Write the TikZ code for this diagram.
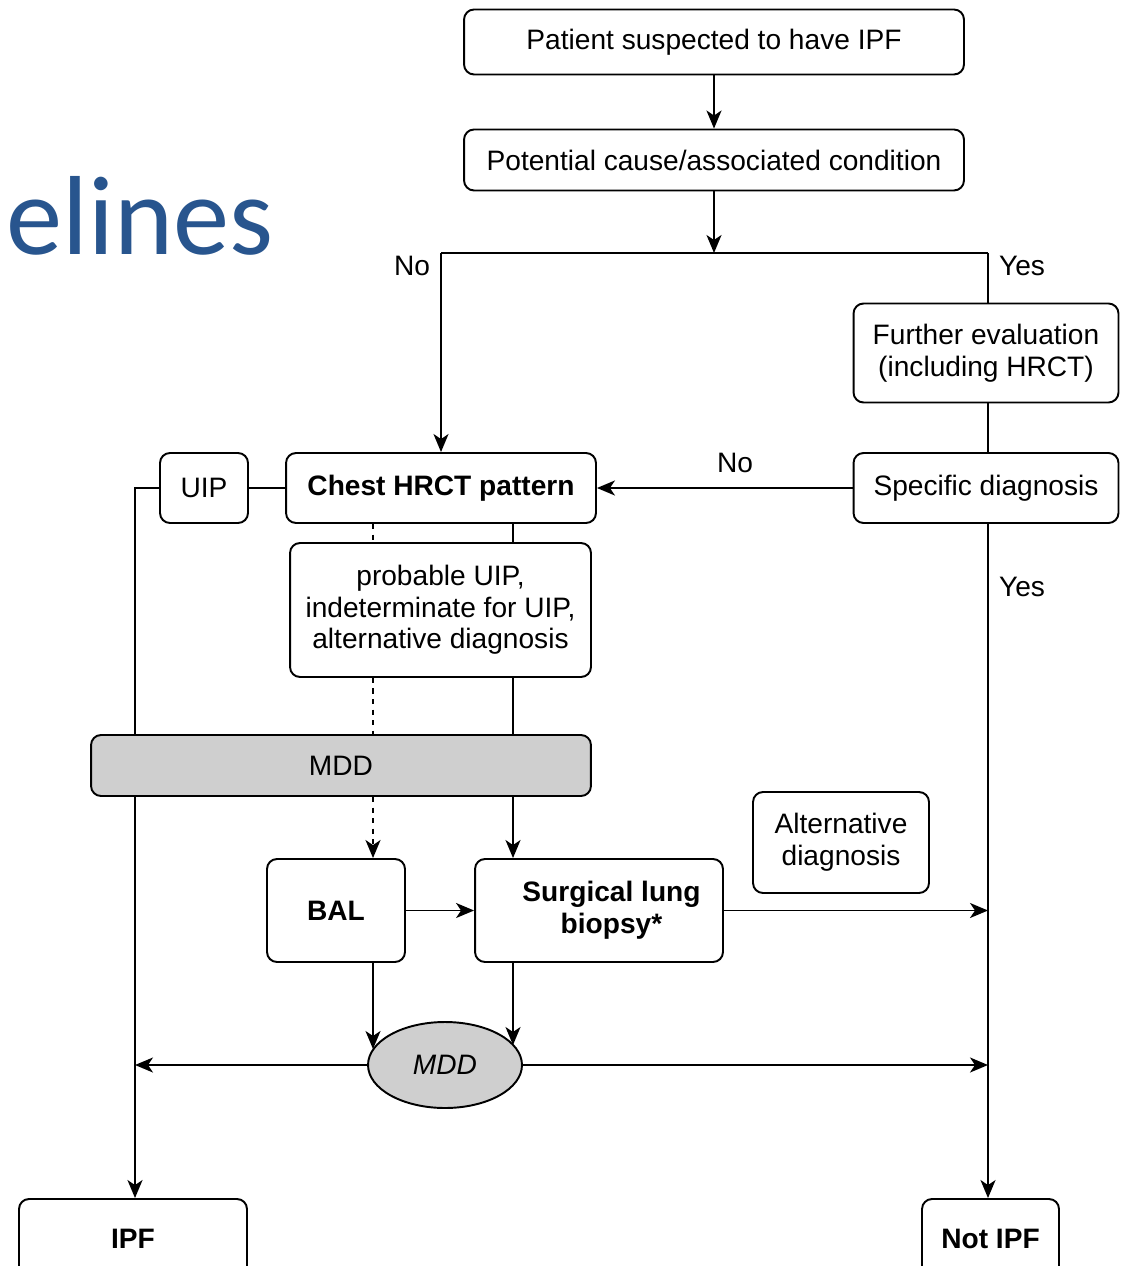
\documentclass[tikz,border=0pt]{standalone}
\usepackage{fontspec}
\setmainfont{Liberation Sans}
\newfontfamily\titlefont{Carlito}
\usepackage{tikz}
\usetikzlibrary{arrows.meta,shapes.geometric,positioning,calc}
\definecolor{mddgray}{HTML}{CFCFCF}
\definecolor{slideblue}{HTML}{28558E}

\begin{document}
\begin{tikzpicture}[x=0.02cm,y=-0.02cm,>={Stealth[length=3.6mm,width=3mm,inset=1mm]},
   line width=1.1pt,font=\fontsize{16}{18}\selectfont,
   bx/.style={rectangle,rounded corners=2mm,draw,fill=white,align=center,inner sep=0pt},
   lbl/.style={inner sep=0pt},
   dsh/.style={dash pattern=on 3pt off 3pt}]
  \useasboundingbox (0,0) rectangle (1120,1266);
  \node[lbl,anchor=base west,text=slideblue,font=\titlefont\fontsize{64}{64}\selectfont] (ttl) at (6,255) {elines};
  % boxes
  \node[bx,minimum width=10cm,minimum height=1.3cm] (pat) at (714,42) {Patient suspected to have IPF};
  \node[bx,minimum width=10cm,minimum height=1.22cm] (cause) at (714,160) {Potential cause/associated condition};
  \node[bx,minimum width=5.3cm,minimum height=1.98cm] (further) at (986,353) {Further evaluation\\(including HRCT)};
  \node[bx,minimum width=5.3cm,minimum height=1.4cm] (spec) at (986,488) {Specific diagnosis};
  \node[bx,minimum width=6.2cm,minimum height=1.4cm] (chest) at (441,488) {\bfseries Chest HRCT pattern};
  \node[bx,minimum width=1.76cm,minimum height=1.4cm] (uip) at (204,488) {UIP};
  \node[bx,minimum width=6.02cm,minimum height=2.68cm] (prob) at (440.5,610) {probable UIP,\\indeterminate for UIP,\\alternative diagnosis};
  \node[bx,fill=mddgray,minimum width=10cm,minimum height=1.22cm] (mdd) at (341,765.5) {MDD};
  \node[bx,minimum width=2.76cm,minimum height=2.06cm] (bal) at (336,910.5) {\bfseries BAL};
  \node[bx,minimum width=4.96cm,minimum height=2.06cm] (slb) at (599,910.5) {\hspace*{0.5cm}\bfseries Surgical lung\\\hspace*{0.5cm}\bfseries biopsy*};
  \node[bx,minimum width=3.52cm,minimum height=2.02cm] (alt) at (841,842.5) {Alternative\\diagnosis};
  \node[ellipse,draw,fill=mddgray,minimum width=3.08cm,minimum height=1.72cm,inner sep=0pt] (ell) at (445,1065) {\itshape MDD};
  \node[bx,minimum width=4.56cm,minimum height=1.6cm] (ipf) at (133,1239) {\bfseries IPF};
  \node[bx,minimum width=2.74cm,minimum height=1.6cm] (nipf) at (990.5,1239) {\bfseries Not IPF};
  % branch points
  \coordinate (jn) at (714,253);
  \coordinate (jl) at (441,253);
  \coordinate (jr) at (988,253);
  \coordinate (lx) at (135,0);
  \coordinate (dl) at (373,0);
  \coordinate (sl) at (513,0);
  \coordinate (eL) at (373,1049);
  \coordinate (eR) at (513,1045);
  % connectors
  \draw[->] (pat) -- (cause);
  \draw[->] (cause) -- (jn);
  \draw (jl) -- (jr);
  \draw[->] (jl) -- (chest);
  \draw (jr) -- (jr |- further.north);
  \draw (further.south -| jr) -- (spec.north -| jr);
  \draw[->] (spec.south -| jr) -- (nipf.north -| jr);
  \draw[->] (spec) -- (chest);
  \draw (chest) -- (uip);
  \draw (uip.west) -| (mdd.north -| lx);
  \draw[->] (mdd.south -| lx) -- (ipf.north -| lx);
  \draw[dsh] (chest.south -| dl) -- (prob.north -| dl);
  \draw[dsh] (prob.south -| dl) -- (mdd.north -| dl);
  \draw[dsh,->] (mdd.south -| dl) -- (bal.north -| dl);
  \draw (chest.south -| sl) -- (prob.north -| sl);
  \draw (prob.south -| sl) -- (mdd.north -| sl);
  \draw[->] (mdd.south -| sl) -- (slb.north -| sl);
  \draw[->] (bal) -- (slb);
  \draw[->] (slb) -- (slb -| jr);
  \draw[->] (bal.south -| dl) -- (eL);
  \draw[->] (slb.south -| sl) -- (eR);
  \draw[->] (ell) -- (ell -| lx);
  \draw[->] (ell) -- (ell -| jr);
  % labels
  \node[lbl] (no1) at (412,266) {No};
  \node[lbl] (yes1) at (1022,266) {Yes};
  \node[lbl] (no2) at (735,463) {No};
  \node[lbl] (yes2) at (1022,587) {Yes};
\end{tikzpicture}
\end{document}
